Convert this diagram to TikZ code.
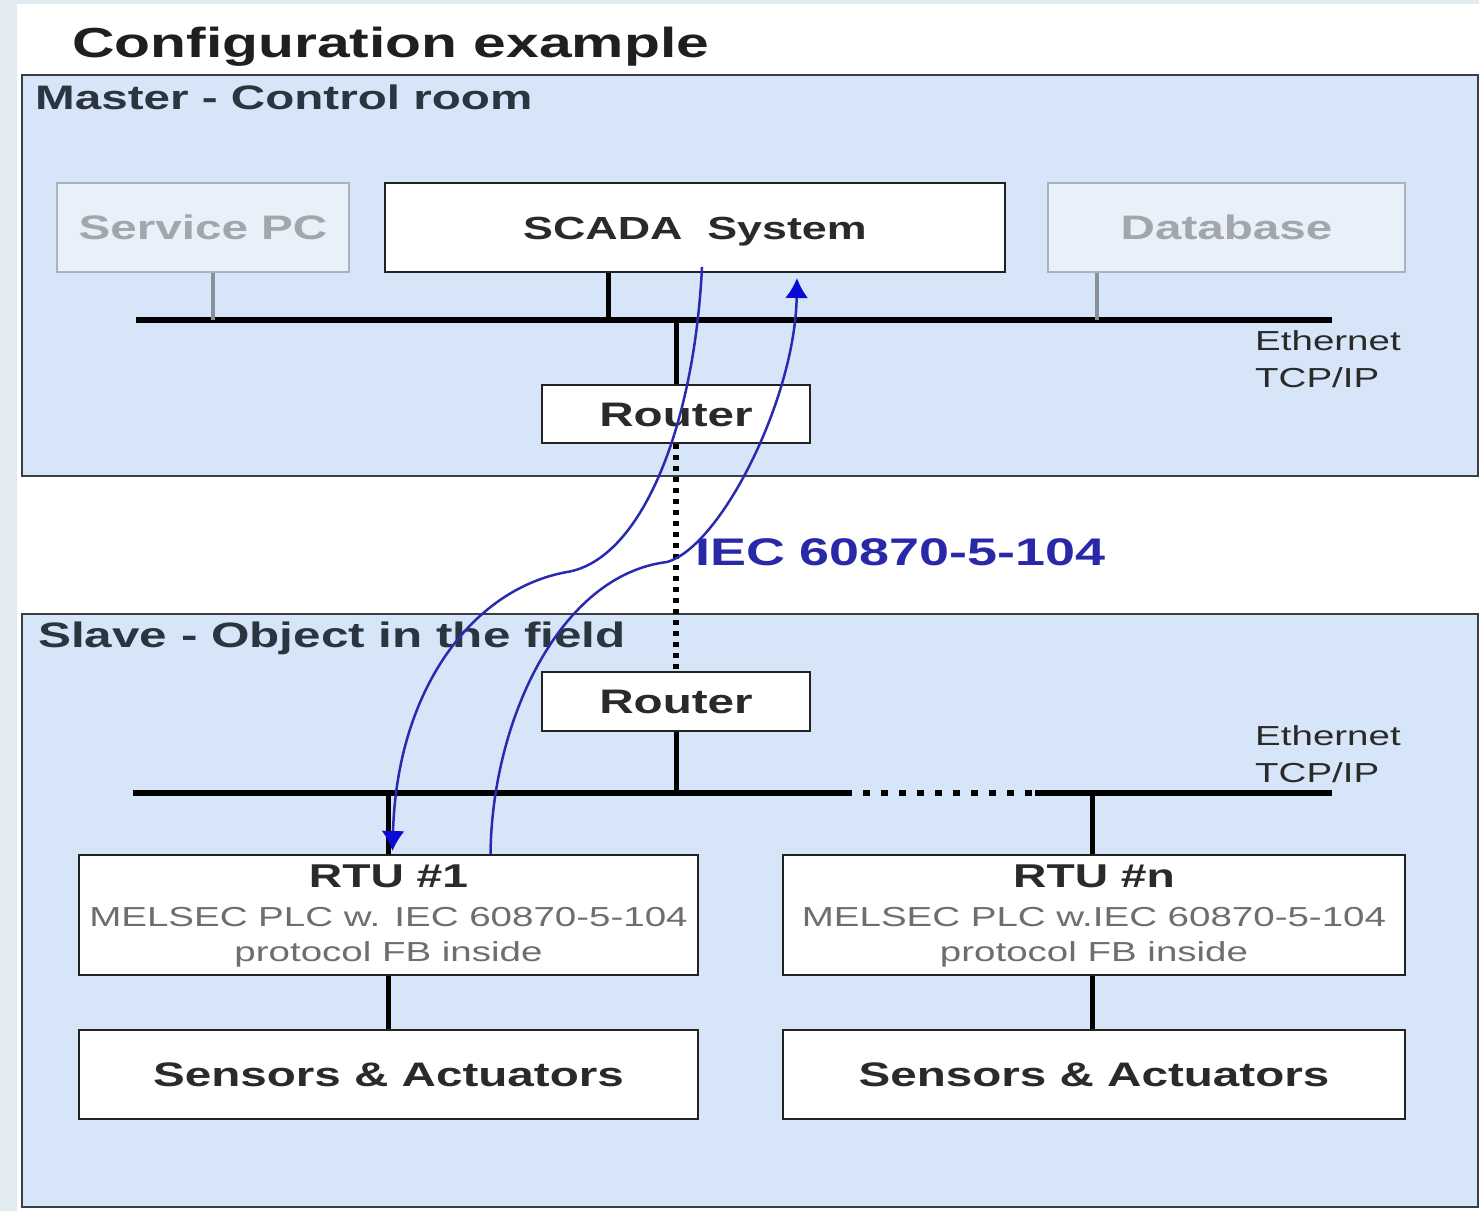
\documentclass[tikz,border=0pt]{standalone}
\usepackage{fontspec}
\setmainfont{Liberation Sans}[FakeStretch=1.4]
\usetikzlibrary{arrows.meta,calc}

\definecolor{panel}{HTML}{D6E6F8}
\definecolor{panelline}{HTML}{3A3F45}
\definecolor{boxline}{HTML}{222222}
\definecolor{boxtext}{HTML}{2A2A2A}
\definecolor{ghostline}{HTML}{A9B3BD}
\definecolor{ghostfill}{HTML}{E8F0FA}
\definecolor{ghosttext}{HTML}{A3A7AB}
\definecolor{ghostdrop}{HTML}{8A9098}
\definecolor{labeltext}{HTML}{2B3540}
\definecolor{subtext}{HTML}{6E6E6E}
\definecolor{flowblue}{HTML}{2A2AB0}
\definecolor{arrowblue}{HTML}{0A0AD8}
\definecolor{iecblue}{HTML}{2828A8}
\definecolor{edge}{HTML}{E2EBF0}

\newcommand\fsz[1]{\fontsize{#1}{#1}\selectfont}

\begin{document}
\begin{tikzpicture}[x=1pt,y=-1pt,
  panelbox/.style={draw=panelline, line width=2pt, fill=panel},
  box/.style={draw=boxline, line width=2pt, fill=white, inner sep=0pt,
    font=\fsz{34}\bfseries, text=boxtext, text height=24pt, text depth=0pt},
  ghost/.style={draw=ghostline, line width=1.5pt, fill=ghostfill, inner sep=0pt,
    font=\fsz{34}\bfseries, text=ghosttext, text height=24pt, text depth=0pt},
  heading/.style={inner sep=0pt, anchor=base west, font=\fsz{34}\bfseries, text=labeltext},
  small/.style={inner sep=0pt, anchor=base west, font=\fsz{27.5}, text=boxtext},
  sub/.style={inner sep=0pt, anchor=base, font=\fsz{27.5}, text=subtext},
  bus/.style={line width=6pt, draw=black},
  drop/.style={line width=5pt, draw=black},
  gdrop/.style={line width=4pt, draw=ghostdrop},
  flow/.style={draw=flowblue, line width=2.5pt,
    -{Latex[length=20pt,width=23pt,color=arrowblue]}}
]
% page and left margin strip
\useasboundingbox (0,0) rectangle (1479,1211);
\fill[white] (0,0) rectangle (1479,1211);
\fill[edge] (0,0) rectangle (17,1211);
\fill[edge] (0,0) rectangle (1479,4);

% title
\node[inner sep=0pt, anchor=base west, font=\fsz{42}\bfseries, text=black!88] (title)
  at (72,57) {Configuration example};

% the two panels
\path[panelbox] (22,75) rectangle (1478,476);
\path[panelbox] (22,614) rectangle (1478,1207);
\node[heading] (masterlbl) at (35,109) {Master - Control room};
\node[heading, font=\fsz{35.3}\bfseries] (slavelbl) at (38,647) {Slave - Object in the field};

% control room devices
\node[ghost, minimum width=292pt, minimum height=89pt] (service) at (203,227.5) {Service PC};
\node[box, minimum width=620pt, minimum height=89pt, font=\fsz{32}\bfseries, text height=23pt]
  (scada) at (695,227.5) {SCADA\ \ System};
\node[ghost, minimum width=357pt, minimum height=89pt] (db) at (1226.5,227.5) {Database};
\node[box, minimum width=268pt, minimum height=58pt] (router1) at (676,414) {Router};

% control room Ethernet
\coordinate (bus1L) at (136,320);
\coordinate (bus1R) at (1332,320);
\draw[bus] (bus1L) -- (bus1R);
\draw[gdrop] ([xshift=10pt]service.south) -- ([xshift=10pt]service.south |- bus1L);
\draw[drop] ([xshift=-87pt]scada.south) -- ([xshift=-87pt]scada.south |- bus1L);
\draw[gdrop] ([xshift=-129.5pt]db.south) -- ([xshift=-129.5pt]db.south |- bus1L);
\draw[drop] (router1.north |- bus1L) -- (router1.north);
\node[small] (eth1) at (1255,350) {Ethernet};
\node[small] (tcp1) at (1255,387) {TCP/IP};

% field devices
\node[box, minimum width=268pt, minimum height=59pt] (router2) at (676,701.5) {Router};
\node[box, minimum width=619pt, minimum height=120pt] (rtu1) at (388.5,915) {};
\node[box, minimum width=622pt, minimum height=120pt] (rtun) at (1094,915) {};
\node[box, minimum width=619pt, minimum height=89pt] (sa1) at (388.5,1074.5) {Sensors \& Actuators};
\node[box, minimum width=622pt, minimum height=89pt] (san) at (1094,1074.5) {Sensors \& Actuators};

\node[inner sep=0pt, anchor=base, font=\fsz{33}\bfseries, text=boxtext] (rtu1t)
  at ([yshift=-33pt]rtu1.north) {RTU \#1};
\node[sub] (rtu1a) at ([yshift=-72pt]rtu1.north) {MELSEC PLC w. IEC 60870-5-104};
\node[sub] (rtu1b) at ([yshift=-107pt]rtu1.north) {protocol FB inside};
\node[inner sep=0pt, anchor=base, font=\fsz{33}\bfseries, text=boxtext] (rtunt)
  at ([yshift=-33pt]rtun.north) {RTU \#n};
\node[sub] (rtuna) at ([yshift=-72pt]rtun.north) {MELSEC PLC w.IEC 60870-5-104};
\node[sub] (rtunb) at ([yshift=-107pt]rtun.north) {protocol FB inside};

% field Ethernet, with the gap to further RTUs dotted
\coordinate (bus2L) at (133,793);
\coordinate (bus2a) at (845,793);
\coordinate (bus2b) at (1035,793);
\coordinate (bus2R) at (1332,793);
\draw[bus] (bus2L) -- (bus2a);
\draw[line width=6pt, dash pattern=on 7pt off 11pt] (bus2a) -- (bus2b);
\draw[bus] (bus2b) -- (bus2R);
\draw[drop] (router2.south) -- (router2.south |- bus2L);
\draw[drop] (rtu1.north |- bus2L) -- (rtu1.north);
\draw[drop] ([xshift=-2pt]rtun.north |- bus2L) -- ([xshift=-2pt]rtun.north);
\draw[drop] (rtu1.south) -- (sa1.north);
\draw[drop] ([xshift=-2pt]rtun.south) -- ([xshift=-2pt]san.north);
\node[small] (eth2) at (1255,745) {Ethernet};
\node[small] (tcp2) at (1255,782) {TCP/IP};

% WAN link between the routers
\draw[line width=6pt, dash pattern=on 5pt off 6pt] (router1.south) -- (router2.north);
\node[inner sep=0pt, anchor=base west, font=\fsz{38.5}\bfseries, text=iecblue] (iec)
  at (695,565) {IEC 60870-5-104};

% protocol traffic: command down to RTU #1, reply up to SCADA
\coordinate (c1s) at (702,267);
\coordinate (c1m) at (567,572);
\coordinate (c2m) at (667,562);
\coordinate (c2e) at (797,278);
\draw[flow] (c1s) .. controls (694,430) and (640,560) .. (c1m)
  .. controls (472,589) and (397,690) .. ([xshift=4pt,yshift=3pt]rtu1.north);
\draw[flow] ([xshift=102pt]rtu1.north) .. controls (492,720) and (560,575) .. (c2m)
  .. controls (720,547) and (795,400) .. (c2e);
\end{tikzpicture}
\end{document}
